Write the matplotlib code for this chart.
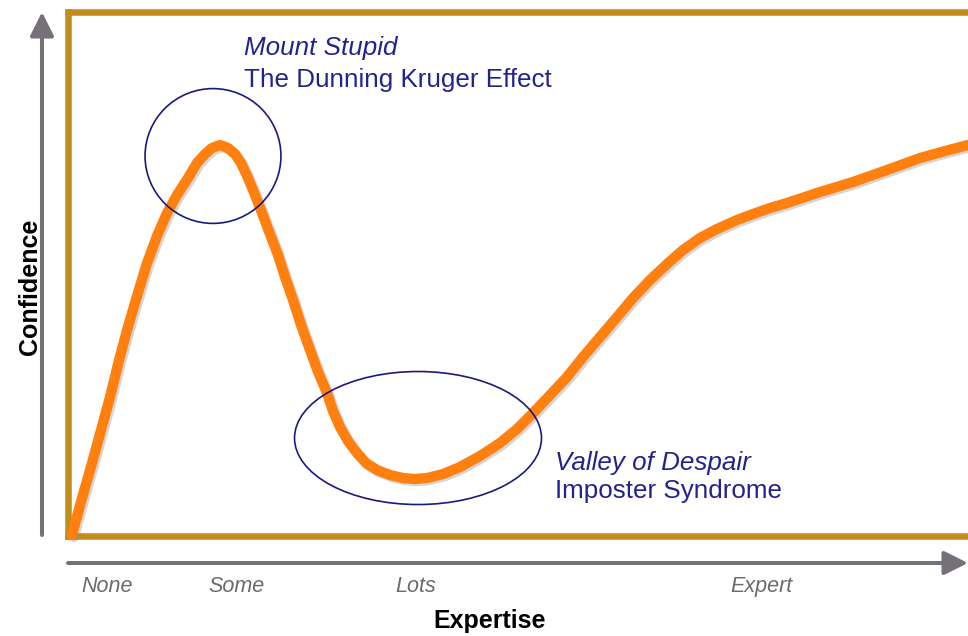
import matplotlib
matplotlib.use("Agg")
import matplotlib.pyplot as plt
from matplotlib.patches import Ellipse
import matplotlib.patheffects as pe

plt.rcParams['font.family'] = ['Liberation Sans', 'DejaVu Sans']

# ---- data (x = expertise 0..100, y = confidence 0..100) ----
expertise = [0.44, 1.56, 2.67, 3.67, 4.67, 5.56, 6.56, 7.67, 8.78, 9.89,
             11.0, 12.11, 13.33, 14.33, 15.22, 16.0, 16.89, 17.78, 18.56, 19.22,
             20.0, 20.78, 21.56, 22.44, 23.33, 24.11, 25.0, 25.89, 26.89, 27.78,
             28.78, 29.44, 30.22, 31.11, 32.11, 33.11, 34.33, 35.78, 37.22, 38.56,
             39.89, 41.67, 43.56, 45.78, 48.0, 49.89, 51.67, 53.56, 55.44, 57.22,
             59.11, 61.0, 62.78, 64.67, 66.56, 68.33, 70.22, 72.11, 74.33, 76.11,
             78.0, 79.89, 83.56, 87.22, 91.0, 94.67, 97.44, 100.0]
confidence = [0.19, 7.24, 13.92, 20.21, 26.50, 32.79, 39.28, 45.76, 52.05, 57.20,
              61.58, 65.01, 68.26, 71.12, 72.83, 73.98, 74.55, 73.98, 72.83, 71.12,
              68.26, 65.01, 61.58, 57.58, 53.57, 49.38, 45.0, 40.23, 35.46, 31.27,
              27.26, 23.83, 20.78, 18.11, 15.82, 13.92, 12.58, 11.63, 11.06, 10.87,
              11.06, 11.82, 13.16, 15.25, 17.73, 20.40, 23.45, 26.88, 30.31, 34.13,
              37.94, 41.75, 45.38, 48.81, 51.86, 54.53, 56.82, 58.53, 60.25, 61.39,
              62.54, 63.49, 65.59, 67.49, 69.78, 72.07, 73.40, 74.55]

tick_positions = [4.33, 18.67, 38.67, 77.1]
tick_labels = ["None", "Some", "Lots", "Expert"]

peak_label = ["Mount Stupid", "The Dunning Kruger Effect"]
valley_label = ["Valley of Despair", "Imposter Syndrome"]

# ---- figure ----
fig = plt.figure(figsize=(9.68, 6.36), dpi=100)
ax = fig.add_axes([68/968, 100/636, 900/968, 524.5/636])
ax.set_xlim(0, 100)
ax.set_ylim(0, 100)

gold = '#C38D1B'
for side in ['left', 'top', 'bottom']:
    ax.spines[side].set_color(gold)
    ax.spines[side].set_linewidth(4.7)
ax.spines['right'].set_visible(False)

# curve
ax.plot(expertise, confidence, color='#FF7F0F', lw=7.4, solid_capstyle='round',
        solid_joinstyle='round', zorder=4, clip_on=False,
        path_effects=[pe.SimpleLineShadow(offset=(1.5, -1.5), shadow_color='#888888', alpha=0.35),
                      pe.Normal()])

# highlight ellipses
navy = '#1A1A7E'
ax.add_patch(Ellipse((16.11, 72.45), 15.1, 25.7, fill=False, ec=navy, lw=1.2, zorder=5))
ax.add_patch(Ellipse((38.89, 18.68), 27.44, 25.36, fill=False, ec=navy, lw=1.2, zorder=5))

# annotations
txt_col = '#23238C'
fs = 18.7
ax.text(19.56, 91.7, peak_label[0], color=txt_col, fontsize=fs, style='italic', va='baseline', ha='left')
ax.text(19.56, 85.6, peak_label[1], color=txt_col, fontsize=fs, va='baseline', ha='left')
ax.text(54.1, 12.58, valley_label[0], color=txt_col, fontsize=fs, style='italic', va='baseline', ha='left')
ax.text(54.1, 7.24, valley_label[1], color=txt_col, fontsize=fs, va='baseline', ha='left')

# ticks
ax.set_yticks([])
ax.set_xticks(tick_positions, tick_labels)
ax.tick_params(axis='x', length=0, pad=29, labelsize=15.5, labelcolor='#6B6B6B')
for lab in ax.get_xticklabels():
    lab.set_style('italic')

# axis labels
ax.set_xlabel("Expertise", fontsize=18, fontweight='bold', color='black')
ax.xaxis.set_label_coords(46.8/100, -0.162)
ax.xaxis.label.set_verticalalignment('center')
ax.set_ylabel("Confidence", fontsize=18, fontweight='bold', color='black')
ax.yaxis.set_label_coords(-0.0422, 0.4747)
ax.yaxis.label.set_verticalalignment('center')
ax.yaxis.label.set_horizontalalignment('center')

# axis arrows (outside the box)
arrow_col = '#767079'
aprops = dict(arrowstyle='-|>,head_length=0.4,head_width=0.2', lw=2.9, color=arrow_col,
              mutation_scale=36, shrinkA=0, shrinkB=0)
ax.annotate('', xy=(-2.89, 99.9), xytext=(-2.89, 0.19), arrowprops=aprops,
            annotation_clip=False)
ax.annotate('', xy=(100.0, -5.15), xytext=(0.0, -5.15), arrowprops=aprops,
            annotation_clip=False)

fig.savefig('out.png', dpi=100, facecolor='white')
